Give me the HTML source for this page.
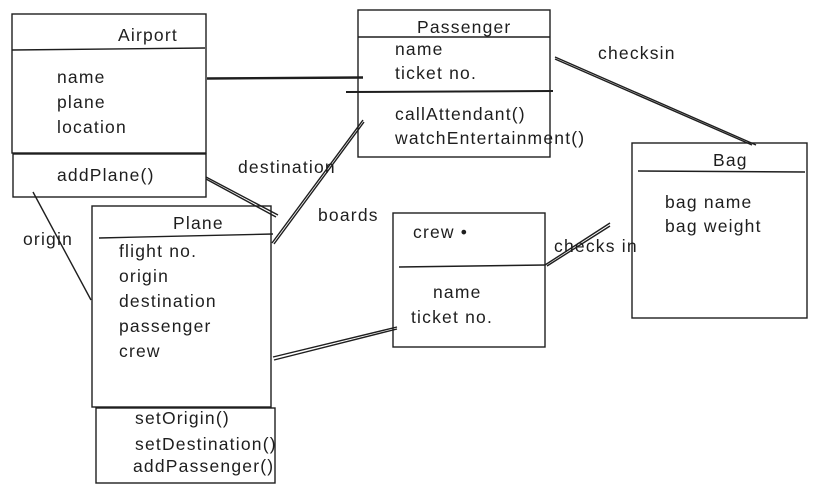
<!DOCTYPE html>
<html><head><meta charset="utf-8"><style>
html,body{margin:0;padding:0;background:#fff}
svg{display:block}
text{font-family:"Liberation Sans","DejaVu Sans",sans-serif;font-size:17.5px;letter-spacing:1.2px;fill:#1e1e1e}
</style></head><body>
<svg width="817" height="494" viewBox="0 0 817 494" xmlns="http://www.w3.org/2000/svg">
<g fill="none" stroke="#1e1e1e" stroke-width="1.4">
<rect x="12" y="14" width="194" height="139"/>
<line x1="12" y1="50" x2="205" y2="48"/>
<rect x="13" y="154" width="193" height="43"/>
<rect x="358" y="10" width="192" height="147"/>
<line x1="358" y1="37" x2="550" y2="37"/>
<line x1="346" y1="92" x2="553" y2="91" stroke-width="2"/>
<rect x="92" y="206" width="179" height="201"/>
<line x1="99" y1="238" x2="273" y2="234"/>
<rect x="96" y="408" width="179" height="75"/>
<rect x="393" y="213" width="152" height="134"/>
<line x1="399" y1="267" x2="545" y2="265"/>
<rect x="632" y="143" width="175" height="175"/>
<line x1="638" y1="171" x2="805" y2="172"/>
<line x1="207" y1="78" x2="363" y2="77"/>
<line x1="207" y1="79" x2="363" y2="78"/>
<line x1="206" y1="177" x2="278" y2="215"/>
<line x1="206" y1="179" x2="276" y2="217"/>
<line x1="272" y1="243" x2="363" y2="120"/>
<line x1="274" y1="244" x2="364" y2="122"/>
<line x1="33" y1="192" x2="91" y2="300"/>
<line x1="273" y1="357" x2="397" y2="327"/>
<line x1="274" y1="360" x2="397" y2="329"/>
<line x1="545" y1="265" x2="610" y2="223"/>
<line x1="547" y1="266" x2="610" y2="226"/>
<line x1="555" y1="57" x2="756" y2="145"/>
<line x1="555" y1="59" x2="752" y2="145"/>
</g>
<text x="118" y="41">Airport</text>
<text x="57" y="83">name</text>
<text x="57" y="108">plane</text>
<text x="57" y="133">location</text>
<text x="57" y="181">addPlane()</text>
<text x="417" y="33">Passenger</text>
<text x="395" y="55">name</text>
<text x="395" y="79">ticket no.</text>
<text x="395" y="120">callAttendant()</text>
<text x="395" y="144">watchEntertainment()</text>
<text x="173" y="229">Plane</text>
<text x="119" y="257">flight no.</text>
<text x="119" y="282">origin</text>
<text x="119" y="307">destination</text>
<text x="119" y="332">passenger</text>
<text x="119" y="357">crew</text>
<text x="135" y="424">setOrigin()</text>
<text x="135" y="450">setDestination()</text>
<text x="133" y="472">addPassenger()</text>
<text x="23" y="245">origin</text>
<text x="238" y="173">destination</text>
<text x="318" y="221">boards</text>
<text x="413" y="238">crew •</text>
<text x="433" y="298">name</text>
<text x="411" y="323">ticket no.</text>
<text x="554" y="252">checks in</text>
<text x="598" y="59">checksin</text>
<text x="713" y="166">Bag</text>
<text x="665" y="208">bag name</text>
<text x="665" y="232">bag weight</text>
</svg>
</body></html>
